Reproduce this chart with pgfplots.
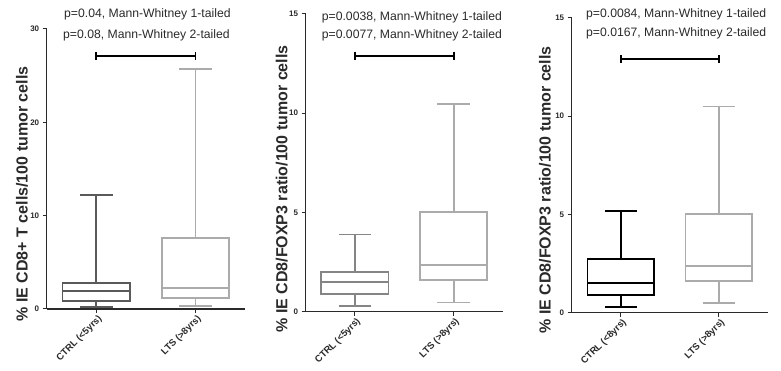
\documentclass[border=0pt]{standalone}
\usepackage{fontspec}
\setmainfont{Liberation Sans}
\usepackage{pgfplots}
\pgfplotsset{compat=1.18}
\usepgfplotslibrary{statistics}
\definecolor{dg}{HTML}{5A5A5A}
\definecolor{mg}{HTML}{858585}
\definecolor{lg}{HTML}{ABABAB}
\definecolor{ax}{HTML}{2A2A2A}
\pgfplotsset{myaxis/.style={
  scale only axis, anchor=south west,
  xmin=0.5, xmax=2.5, ymin=0,
  axis x line*=bottom, axis y line*=left,
  axis line style={ax, line width=1.3pt, -},
  x axis line style={-}, y axis line style={-},
  xtick={1,2}, tick align=outside, major tick length=4pt,
  tick style={ax, line width=1pt},
  xticklabel style={rotate=45, anchor=east, font=\fontsize{9.5}{10}\selectfont\bfseries, text=ax, inner sep=1pt, xshift=1pt, yshift=-6pt},
  yticklabel style={font=\fontsize{8}{9}\selectfont\bfseries, text=ax},
  /pgf/number format/assume math mode=true,
  clip=false,
  boxplot/draw direction=y,
  boxplot/box extend=0.68, boxplot/whisker extend=0.33,
}}
\begin{document}
\begin{tikzpicture}
\useasboundingbox (0,0) rectangle (781pt,371pt);
% Panel 1
\begin{axis}[myaxis, at={(46.7pt,62pt)}, width=198.3pt, height=280pt, ymax=30, ytick={0,10,20,30},
  xticklabels={CTRL (<5yrs), LTS (>8yrs)}]
\addplot[dg, line width=1.8pt, boxplot prepared={draw position=1, median=1.89, lower quartile=0.82, upper quartile=2.82, lower whisker=0.25, upper whisker=12.25}] coordinates {};
\addplot[lg, line width=1.8pt, boxplot prepared={draw position=2, median=2.25, lower quartile=1.21, upper quartile=7.57, lower whisker=0.32, upper whisker=25.7}] coordinates {};
\addplot[black, line width=1.8pt, mark=|, mark size=4pt, mark options={solid, line width=1.8pt}] coordinates {(1,27.1) (2,27.1)};
\end{axis}
% Panel 2
\begin{axis}[myaxis, at={(305.5pt,59.3pt)}, width=197.5pt, height=297.7pt, ymax=15, ytick={0,5,10,15},
  xticklabels={CTRL (<5yrs), LTS (>8yrs)}]
\addplot[mg, line width=1.8pt, boxplot prepared={draw position=1, median=1.49, lower quartile=0.88, upper quartile=1.98, lower whisker=0.27, upper whisker=3.89}] coordinates {};
\addplot[lg, line width=1.8pt, boxplot prepared={draw position=2, median=2.35, lower quartile=1.61, upper quartile=5.03, lower whisker=0.46, upper whisker=10.48}] coordinates {};
\addplot[black, line width=1.8pt, mark=|, mark size=4pt, mark options={solid, line width=1.8pt}] coordinates {(1,12.9) (2,12.9)};
\end{axis}
% Panel 3
\begin{axis}[myaxis, at={(571.7pt,58.3pt)}, width=196.3pt, height=294.7pt, ymax=15, ytick={0,5,10,15},
  xticklabels={CTRL (<8yrs), LTS (>8yrs)}]
\addplot[black, line width=1.8pt, boxplot prepared={draw position=1, median=1.50, lower quartile=0.90, upper quartile=2.74, lower whisker=0.29, upper whisker=5.19}] coordinates {};
\addplot[lg, line width=1.8pt, boxplot prepared={draw position=2, median=2.38, lower quartile=1.63, upper quartile=5.04, lower whisker=0.48, upper whisker=10.5}] coordinates {};
\addplot[black, line width=1.8pt, mark=|, mark size=4pt, mark options={solid, line width=1.8pt}] coordinates {(1,12.9) (2,12.9)};
\end{axis}
% y labels
\begin{scope}[every node/.style={rotate=90, font=\fontsize{16}{18}\selectfont\bfseries, text=ax, inner sep=0pt}]
\node at (22pt,177pt) {\% IE CD8+ T cells/100 tumor cells};
\node at (281.7pt,182pt) {\% IE CD8/FOXP3 ratio/100 tumor cells};
\node at (545pt,181pt) {\% IE CD8/FOXP3 ratio/100 tumor cells};
\end{scope}
% p-value texts
\begin{scope}[every node/.style={anchor=west, font=\fontsize{12.2}{14}\selectfont, text=ax, inner sep=0pt}]
\node at (64pt,356.7pt) {p=0.04, Mann-Whitney 1-tailed};
\node at (63pt,336pt) {p=0.08, Mann-Whitney 2-tailed};
\node at (321.7pt,354pt) {p=0.0038, Mann-Whitney 1-tailed};
\node at (321.7pt,336pt) {p=0.0077, Mann-Whitney 2-tailed};
\node at (586pt,357pt) {p=0.0084, Mann-Whitney 1-tailed};
\node at (586pt,337.5pt) {p=0.0167, Mann-Whitney 2-tailed};
\end{scope}
\end{tikzpicture}
\end{document}
